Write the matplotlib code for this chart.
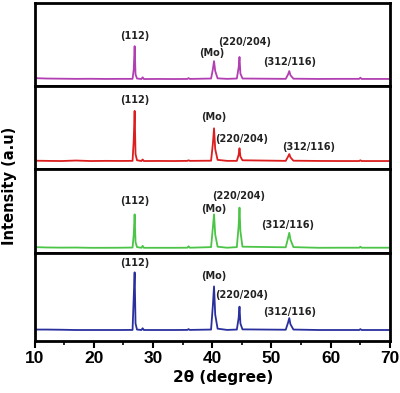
import numpy as np
import matplotlib
matplotlib.use("Agg")
import matplotlib.pyplot as plt
from matplotlib.ticker import MultipleLocator

# shared 2theta sampling points (degree)
two_theta = [10, 12.0, 14.5, 17.0, 19.5, 22.0, 24.5, 26.55, 26.75, 26.9, 27.05, 27.3,
             28.05, 28.25, 28.45, 31.0, 33.5, 35.8, 36.0, 36.2,
             39.8, 40.1, 40.3, 40.5, 40.9, 42.5,
             44.15, 44.45, 44.6, 44.75, 45.1,
             52.4, 52.8, 53.0, 53.2, 53.7, 58.0, 61.5, 64.8, 65.0, 65.2, 68.0, 70]

# intensities (a.u.), top panel first
purple = [9.5, 9.0, 8.8, 8.6, 8.7, 8.5, 8.6, 8.6, 20, 48, 14, 9.0,
          8.4, 10.5, 8.4, 8.5, 8.4, 8.5, 9.5, 8.5,
          9.0, 20, 30, 18, 9.2, 8.6,
          9.0, 22, 35, 15, 9.0,
          8.6, 14, 18, 13, 8.8, 8.5, 8.6, 8.6, 10, 8.5, 8.5, 8.5]
red = [10, 9.8, 9.6, 10.2, 9.6, 9.8, 9.7, 9.8, 35, 70, 18, 10.5,
       9.6, 11.5, 9.6, 9.7, 9.6, 9.8, 10.5, 9.8,
       10, 30, 49, 24, 11, 9.8,
       9.8, 17, 25, 15, 10.5,
       9.8, 15, 18, 14, 10, 9.7, 9.6, 9.6, 10.5, 9.6, 9.6, 9.6]
green = [7.0, 6.6, 6.4, 6.5, 6.2, 6.2, 6.3, 6.5, 22, 46, 13, 7.0,
         6.2, 8.5, 6.2, 6.2, 6.2, 6.3, 8.0, 6.3,
         7.0, 30, 46, 22, 7.5, 6.3,
         7.0, 32, 54, 26, 7.5,
         6.8, 18, 24, 16, 7.0, 6.2, 6.3, 6.3, 7.5, 6.3, 6.3, 6.3]
blue = [13, 13, 12.8, 12.5, 12.5, 12.5, 12.5, 12.6, 50, 78, 20, 13,
        12.5, 14.5, 12.5, 12.5, 12.5, 12.6, 13.5, 12.6,
        13, 40, 62, 30, 14, 12.6,
        13, 26, 39, 20, 13.2,
        12.8, 21, 26, 19, 13, 12.5, 12.5, 12.5, 13.5, 12.5, 12.5, 12.5]

series = [purple, red, green, blue]
colors = ["#b23fb2", "#dc1e1e", "#4cc447", "#2a2f9e"]

# peak labels: (text, 2theta, height in panel) per panel
labels = [
    [("(112)", 27.0, 60), ("(Mo)", 40.0, 40), ("(220/204)", 45.5, 53), ("(312/116)", 53.1, 29)],
    [("(112)", 27.0, 83), ("(Mo)", 40.3, 63), ("(220/204)", 45.0, 36), ("(312/116)", 56.2, 27)],
    [("(112)", 27.0, 62), ("(Mo)", 40.3, 52), ("(220/204)", 44.4, 68), ("(312/116)", 52.8, 33)],
    [("(112)", 27.0, 89), ("(Mo)", 40.3, 74), ("(220/204)", 45.0, 52), ("(312/116)", 53.0, 33)],
]

fig = plt.figure(figsize=(4.0, 3.93), dpi=100)
gs = fig.add_gridspec(4, 1, left=34.5/400, right=390/400, top=1-3/393, bottom=1-341/393,
                      hspace=0, height_ratios=[83, 83, 84, 88])

for i in range(4):
    ax = fig.add_subplot(gs[i])
    ax.plot(two_theta, series[i], color=colors[i], lw=1.3)
    ax.set_xlim(10, 70)
    ax.set_ylim(0, 100)
    ax.set_yticks([])
    for s in ax.spines.values():
        s.set_linewidth(2.0)
    for txt, xx, yy in labels[i]:
        ax.text(xx, yy, txt, ha="center", va="center", fontsize=7, fontweight="bold",
                color="#222222")
    if i < 3:
        ax.tick_params(axis="x", which="both", bottom=False, labelbottom=False)
    else:
        ax.xaxis.set_major_locator(MultipleLocator(10))
        ax.xaxis.set_minor_locator(MultipleLocator(5))
        ax.tick_params(axis="x", which="major", direction="out", length=5, width=1.5, pad=2)
        ax.tick_params(axis="x", which="minor", direction="out", length=3, width=1.2)
        for lab in ax.get_xticklabels():
            lab.set_family("Liberation Sans")
            lab.set_fontweight("bold")
            lab.set_fontsize(12.5)
        ax.set_xlabel("2θ (degree)", fontsize=11, fontweight="bold")
        ax.xaxis.set_label_coords(0.53, -0.33)

fig.text(10/400, 1-186/393, "Intensity (a.u)", rotation=90, ha="center", va="center",
         fontsize=10.5, fontweight="bold")

fig.savefig("out.png", dpi=100)
